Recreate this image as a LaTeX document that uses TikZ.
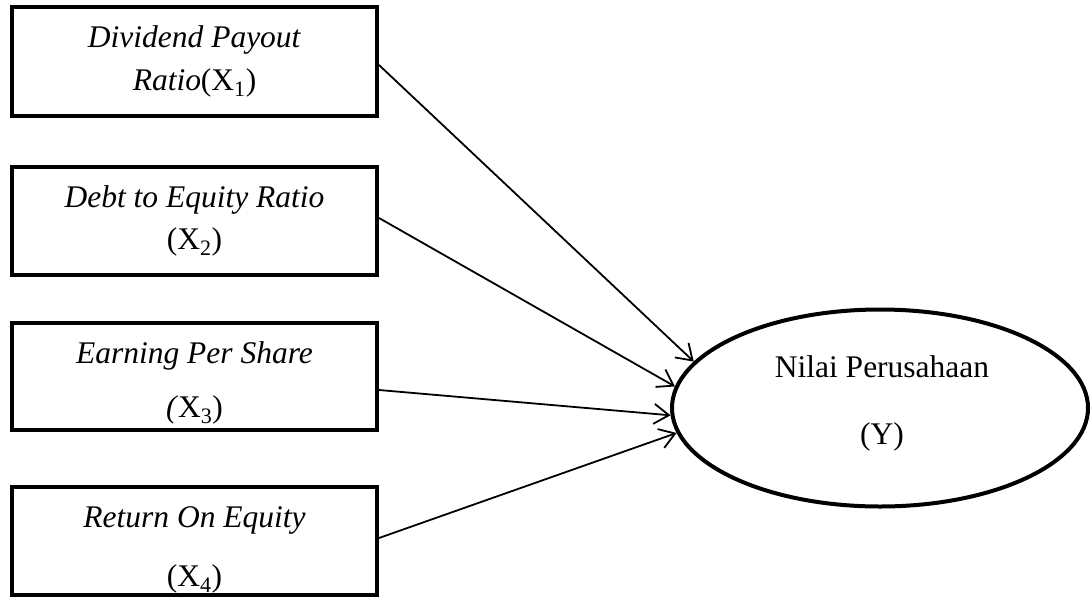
\documentclass[tikz,border=0pt]{standalone}
\usepackage{fontspec}
\setmainfont{Liberation Serif}
\usetikzlibrary{arrows.meta,shapes.geometric}
\begin{document}
\begin{tikzpicture}[x=1pt,y=-1pt,
  box/.style={draw,line width=4pt,minimum width=365pt,inner sep=0pt},
  txt/.style={inner sep=0pt,font=\fontsize{31.5}{38}\selectfont,anchor=center},
  conn/.style={line width=1.8pt,-{Straight Barb[length=15pt,width=20pt,line width=1.8pt]}}]
\path[use as bounding box] (0,0) rectangle (1091,600);
\node[box,minimum height=109pt] (b1) at (194.5,61.5) {};
\node[box,minimum height=108pt] (b2) at (194.5,221) {};
\node[box,minimum height=107pt] (b3) at (194.5,376.5) {};
\node[box,minimum height=108pt] (b4) at (194.5,541) {};
\node[txt] (t1a) at (194.5,40) {\textit{Dividend Payout}};
\node[txt] (t1b) at (194.5,83) {\textit{Ratio}(X\textsubscript{1})};
\node[txt] (t2a) at (194.5,200) {\textit{Debt to Equity Ratio}};
\node[txt] (t2b) at (194.5,242) {(X\textsubscript{2})};
\node[txt] (t3a) at (194.5,356) {\textit{Earning Per Share}};
\node[txt] (t3b) at (194.5,410) {\textit{(}X\textsubscript{3})};
\node[txt] (t4a) at (194.5,520) {\textit{Return On Equity}};
\node[txt] (t4b) at (194.5,579) {(X\textsubscript{4})};
\node[draw,ellipse,line width=4pt,minimum width=416pt,minimum height=197pt,inner sep=0pt] (Y) at (880,408) {};
\node[txt] (ya) at (882,367) {Nilai Perusahaan};
\node[txt] (yb) at (882,437) {(Y)};
\draw[conn] ([yshift=-3.5pt]b1.east) -- (Y.166.5);
\draw[conn] ([yshift=3pt]b2.east) -- (Y.174.5);
\draw[conn] ([yshift=-13.5pt]b3.east) -- (Y.182);
\draw[conn] ([yshift=3pt]b4.east) -- (Y.187.5);
\end{tikzpicture}
\end{document}
